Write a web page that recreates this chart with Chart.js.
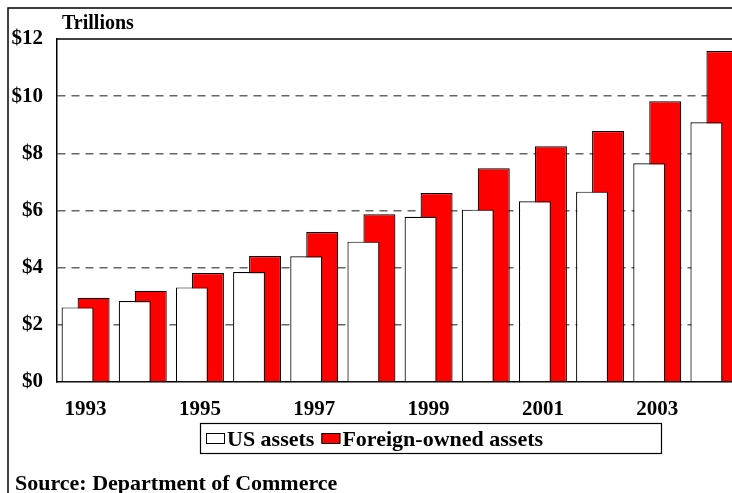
<!DOCTYPE html>
<html>
<head>
<meta charset="utf-8">
<script src="https://cdn.jsdelivr.net/npm/chart.js@4/dist/chart.umd.min.js"></script>
<style>
  html, body { margin: 0; padding: 0; background: #fff; overflow: hidden; width: 732px; height: 493px; }
  #wrap { position: absolute; left: 0; top: 0; width: 760px; height: 493px; }
  canvas { display: block; }
</style>
</head>
<body>
<div id="wrap"><canvas id="c" width="760" height="493" style="width:760px;height:493px"></canvas></div>
<script>
const years = ['1993','1994','1995','1996','1997','1998','1999','2000','2001','2002','2003','2004'];
const usAssets = [2.61, 2.83, 3.31, 3.85, 4.40, 4.91, 5.78, 6.03, 6.32, 6.66, 7.65, 9.09];
const foreignAssets = [2.95, 3.19, 3.81, 4.41, 5.25, 5.87, 6.61, 7.48, 8.25, 8.78, 9.82, 11.58];
const yTicks = [0, 2, 4, 6, 8, 10, 12];
const seriesNames = ['US assets', 'Foreign-owned assets'];
const unitLabel = 'Trillions';
const sourceText = 'Source: Department of Commerce';

const FONT = '"Liberation Serif", "Times New Roman", serif';

const decor = {
  id: 'decor',
  beforeDraw(chart) {
    const ctx = chart.ctx;
    ctx.save();
    ctx.fillStyle = '#fff';
    ctx.fillRect(0, 0, chart.width, chart.height);
    ctx.strokeStyle = '#000';
    ctx.lineWidth = 1.5;
    ctx.beginPath();
    ctx.moveTo(8, chart.height + 5);
    ctx.lineTo(8, 8);
    ctx.lineTo(chart.width + 5, 8);
    ctx.stroke();
    ctx.restore();
  },
  beforeDatasetsDraw(chart) {
    const ctx = chart.ctx, a = chart.chartArea;
    ctx.save();
    ctx.strokeStyle = '#000';
    ctx.lineWidth = 1.5;
    ctx.beginPath();
    ctx.moveTo(a.left, a.top);
    ctx.lineTo(a.right + 5, a.top);
    ctx.stroke();
    ctx.restore();
  },
  afterDraw(chart) {
    const ctx = chart.ctx, a = chart.chartArea;
    ctx.save();
    ctx.fillStyle = '#000';
    ctx.textBaseline = 'alphabetic';
    ctx.textAlign = 'left';
    ctx.font = 'bold 20px ' + FONT;
    ctx.fillText(unitLabel, a.left + 5, a.top - 10);
    ctx.font = 'bold 22px ' + FONT;
    ctx.fillText(sourceText, 15, chart.height - 3);

    // legend (custom, boxed, left-aligned like the original)
    const boxTop = a.bottom + 41;
    const boxLeft = 200;
    ctx.strokeStyle = '#000';
    ctx.lineWidth = 1.2;
    ctx.strokeRect(boxLeft + 0.5, boxTop + 0.5, 461, 30);
    ctx.font = 'bold 22px ' + FONT;
    let x = boxLeft + 6;
    chart.data.datasets.forEach((ds) => {
      ctx.fillStyle = ds.backgroundColor;
      ctx.fillRect(x, boxTop + 10, 19, 10);
      ctx.strokeStyle = '#000';
      ctx.lineWidth = 1;
      ctx.strokeRect(x + 0.5, boxTop + 10.5, 18, 10);
      x += 21;
      ctx.fillStyle = '#000';
      ctx.fillText(ds.label, x, boxTop + 23);
      x += ctx.measureText(ds.label).width + 7;
    });
    ctx.restore();
  }
};

new Chart(document.getElementById('c'), {
  type: 'bar',
  data: {
    labels: years,
    datasets: [
      { label: seriesNames[0], data: usAssets, backgroundColor: '#ffffff', borderColor: '#000000', borderWidth: 1.2 },
      { label: seriesNames[1], data: foreignAssets, backgroundColor: '#ff0000', borderColor: '#000000', borderWidth: 1.2 }
    ]
  },
  options: {
    responsive: false,
    devicePixelRatio: 1,
    animation: false,
    datasets: { bar: { categoryPercentage: 0.5597, barPercentage: 2 } },
    layout: { padding: { left: 8, top: 39, right: 17, bottom: 76 } },
    plugins: {
      legend: { display: false },
      title: { display: false },
      tooltip: { enabled: false }
    },
    scales: {
      x: {
        offset: true,
        grid: { display: false, drawTicks: false },
        border: { display: true, color: '#000', width: 1.5 },
        ticks: {
          autoSkip: false, maxRotation: 0, padding: 15, color: '#000',
          font: { family: FONT, size: 21, weight: 'bold' },
          callback: (v, i) => (i % 2 === 0 ? years[i] : '')
        },
        afterFit: (s) => { s.height = 35; }
      },
      y: {
        min: yTicks[0], max: yTicks[yTicks.length - 1],
        afterBuildTicks: (s) => { s.ticks = yTicks.map(v => ({ value: v })); },
        grid: {
          drawTicks: false, lineWidth: 1.5,
          color: (c) => (c.tick && (c.tick.value === 0 || c.tick.value === 12) ? 'rgba(0,0,0,0)' : '#666')
        },
        border: { display: true, color: '#000', width: 1.5, dash: [8, 6] },
        ticks: {
          padding: 14, color: '#000',
          font: { family: FONT, size: 21, weight: 'bold' },
          callback: (v) => '$' + v
        },
        afterFit: (s) => { s.width = 49; }
      }
    }
  },
  plugins: [decor]
});
</script>
</body>
</html>
